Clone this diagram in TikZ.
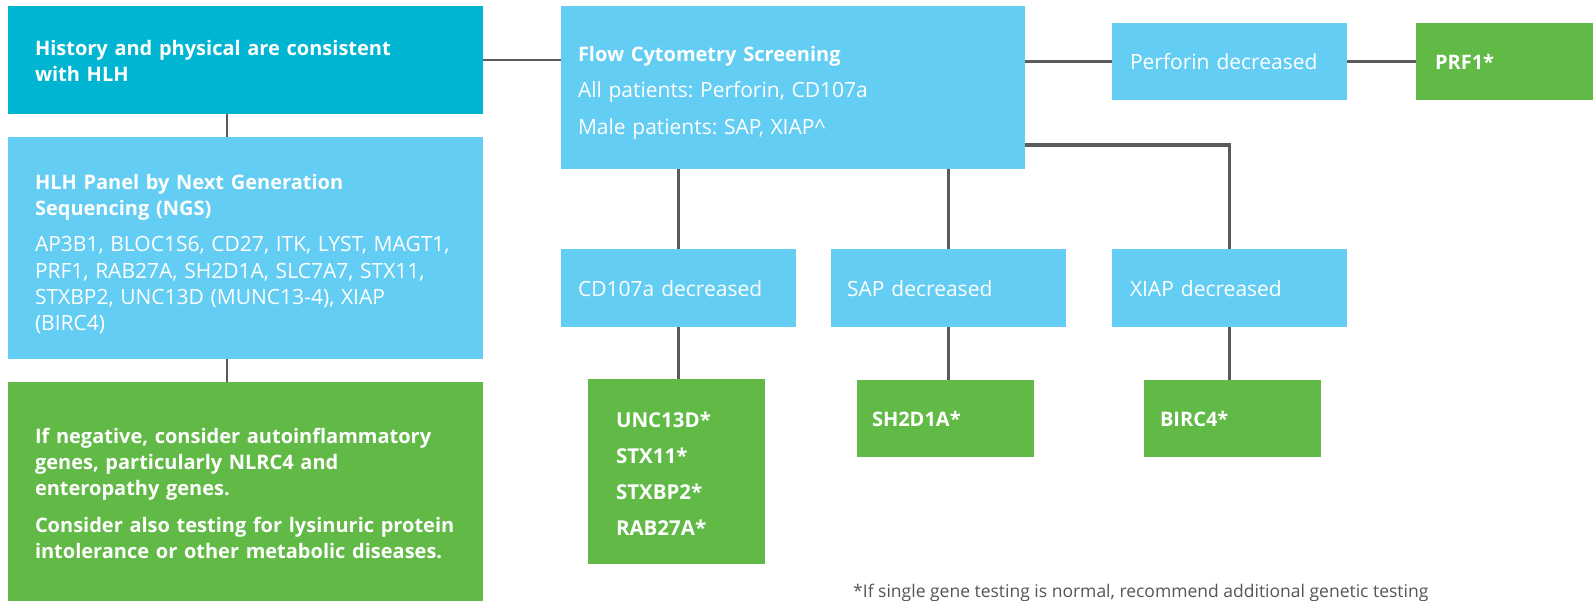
\documentclass[tikz,border=0pt]{standalone}
\usepackage{fontspec}
\setmainfont{Open Sans}
\definecolor{hdrTeal}{HTML}{00B5D1}
\definecolor{stepBlue}{HTML}{63CDF3}
\definecolor{geneGreen}{HTML}{61BA46}
\definecolor{linkGray}{HTML}{5A5A5A}
\definecolor{noteGray}{HTML}{555555}
\tikzset{
  box/.style={rectangle, draw=none, inner sep=0pt, outer sep=0pt, anchor=north west},
  boxtxt/.style={inner sep=0pt, outer sep=0pt, anchor=base west, text=white,
    align=left, text width=#1},
  boxtxt/.default=440pt,
  bodyfont/.style={font=\frenchspacing\fontsize{21}{26}\selectfont},
  headfont/.style={font=\frenchspacing\bfseries\fontsize{20}{26}\selectfont},
  link/.style={draw=linkGray, line width=2.5pt},
  buslink/.style={draw=linkGray, line width=3.5pt},
}
\begin{document}
\begin{tikzpicture}[x=1pt, y=-1pt]
\useasboundingbox (0,0) rectangle (1596,600);

% left column
\node[box, fill=hdrTeal, minimum width=475pt, minimum height=108pt] (hist) at (8,6) {};
\node[box, fill=stepBlue, minimum width=475pt, minimum height=222pt] (ngs) at (8,137) {};
\node[box, fill=geneGreen, minimum width=475pt, minimum height=230pt] (neg) at (8,382) {};

\node[boxtxt, headfont] (hist-t) at (35,55)
  {History and physical are consistent\\with HLH};
\node[boxtxt, headfont] (ngs-t) at (35,189)
  {HLH Panel by Next Generation\\Sequencing (NGS)\\[10pt]
   \normalfont\fontsize{21}{26.5}\selectfont
   AP3B1, BLOC1S6, CD27, ITK, LYST, MAGT1,\\
   PRF1, RAB27A, SH2D1A, SLC7A7, STX11,\\
   STXBP2, UNC13D (MUNC13-4), XIAP\\
   (BIRC4)};
\node[boxtxt, headfont] (neg-t) at (35,443)
  {If negative, consider autoinflammatory\\genes, particularly NLRC4 and\\enteropathy genes.\\[11pt]
   Consider also testing for lysinuric protein\\intolerance or other metabolic diseases.};

% flow cytometry branch
\node[box, fill=stepBlue, minimum width=464pt, minimum height=163pt] (flow) at (561,6) {};
\node[boxtxt, headfont] (flow-t) at (578,61)
  {Flow Cytometry Screening\\[10.5pt]
   \normalfont\fontsize{21}{26}\selectfont All patients: Perforin, CD107a\\[10.5pt]
   Male patients: SAP, XIAP\textasciicircum};

\node[box, fill=stepBlue, minimum width=235pt, minimum height=77pt] (perf) at (1112,23) {};
\node[box, fill=geneGreen, minimum width=177pt, minimum height=77pt] (prf) at (1416,23) {};
\node[boxtxt=200pt, bodyfont] (perf-t) at (1130,69) {Perforin decreased};
\node[boxtxt=150pt, headfont] (prf-t) at (1435,69) {PRF1*};

\node[box, fill=stepBlue, minimum width=235pt, minimum height=78pt] (cd) at (561,249) {};
\node[box, fill=stepBlue, minimum width=235pt, minimum height=78pt] (sap) at (831,249) {};
\node[box, fill=stepBlue, minimum width=235pt, minimum height=78pt] (xiap) at (1112,249) {};
\node[boxtxt=200pt, bodyfont] (cd-t) at (578,296) {CD107a decreased};
\node[boxtxt=200pt, bodyfont] (sap-t) at (847,296) {SAP decreased};
\node[boxtxt=200pt, bodyfont] (xiap-t) at (1130,296) {XIAP decreased};

\node[box, fill=geneGreen, minimum width=177pt, minimum height=185pt] (unc) at (588,379) {};
\node[box, fill=geneGreen, minimum width=177pt, minimum height=77pt] (sh) at (857,380) {};
\node[box, fill=geneGreen, minimum width=177pt, minimum height=77pt] (birc) at (1144,380) {};
\node[boxtxt=150pt, font=\bfseries\fontsize{20.5}{36}\selectfont] (unc-t) at (616,427)
  {UNC13D*\\STX11*\\STXBP2*\\RAB27A*};
\node[boxtxt=150pt, headfont] (sh-t) at (872,426) {SH2D1A*};
\node[boxtxt=150pt, headfont] (birc-t) at (1160,426) {BIRC4*};

% footnote
\node[inner sep=0pt, anchor=base west, text=noteGray, font=\frenchspacing\fontsize{17.5}{22}\selectfont]
  (note) at (853,597) {*If single gene testing is normal, recommend additional genetic testing};

% connectors
\coordinate (spine) at (227,0);
\coordinate (xiapbus) at (0,145);
\draw[link] (hist.south -| spine) -- (ngs.north -| spine);
\draw[link] (ngs.south -| spine) -- (neg.north -| spine);
\draw[link] (hist.east) -- (hist.east -| flow.west);
\draw[link] (flow.east |- perf.west) -- (perf.west);
\draw[link] (perf.east) -- (prf.west);
\draw[link] (flow.south -| cd.north) -- (cd.north);
\draw[link] (flow.south -| sap.north) -- (sap.north);
\draw[buslink] (flow.east |- xiapbus) -| (xiap.north);
\draw[link] (cd.south) -- (cd.south |- unc.north);
\draw[link] (sap.south) -- (sap.south |- sh.north);
\draw[link] (xiap.south) -- (xiap.south |- birc.north);
\end{tikzpicture}
\end{document}
